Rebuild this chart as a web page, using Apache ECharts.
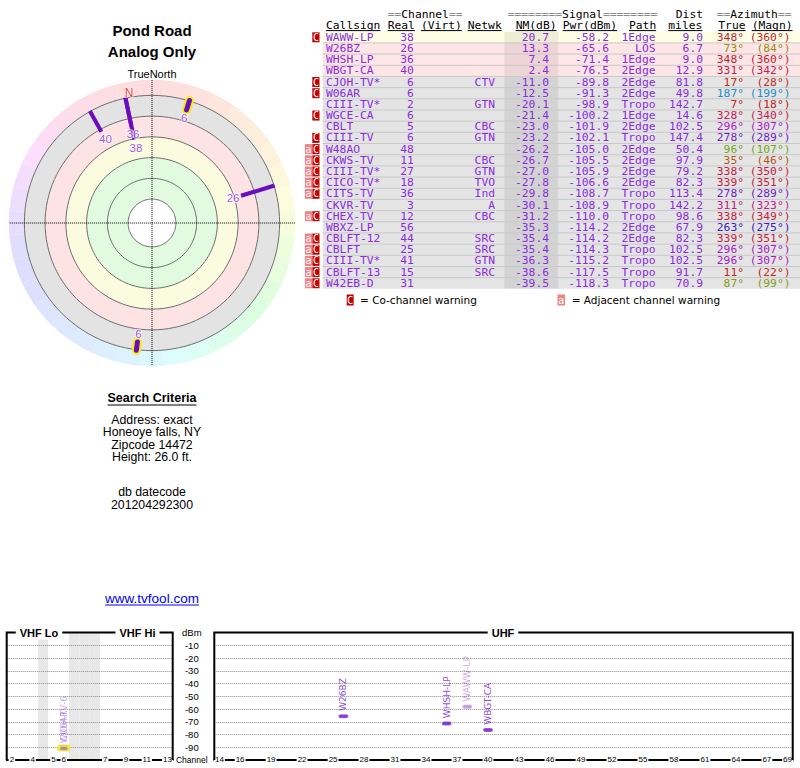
<!DOCTYPE html>
<html>
<head>
<meta charset="utf-8">
<script src="https://cdn.jsdelivr.net/npm/echarts@6.0.0/dist/echarts.min.js"></script>
<style>
html,body{margin:0;padding:0;background:#fff;}
#chart{width:800px;height:768px;}
</style>
</head>
<body>
<div id="chart"></div>
<script>
// ================= DATA =================
const warnings   = ['C','','','','C','C','','C','','C','aC','aC','aC','aC','aC','','aC','','aC','aC','aC','aC','aC'];
const callsigns  = ['WAWW-LP','W26BZ','WHSH-LP','WBGT-CA','CJOH-TV*','W06AR','CIII-TV*','WGCE-CA','CBLT','CIII-TV','W48AO','CKWS-TV','CIII-TV*','CICO-TV*','CITS-TV','CKVR-TV','CHEX-TV','WBXZ-LP','CBLFT-12','CBLFT','CIII-TV*','CBLFT-13','W42EB-D'];
const realCh     = [38,26,36,40,6,6,2,6,5,6,48,11,27,18,36,3,12,56,44,25,41,15,31];
const networks   = ['','','','','CTV','','GTN','','CBC','GTN','','CBC','GTN','TVO','Ind','A','CBC','','SRC','SRC','GTN','SRC',''];
const nmDb       = [20.7,13.3,7.4,2.4,-11.0,-12.5,-20.1,-21.4,-23.0,-23.2,-26.2,-26.7,-27.0,-27.8,-29.8,-30.1,-31.2,-35.3,-35.4,-35.4,-36.3,-38.6,-39.5];
const pwrDbm     = [-58.2,-65.6,-71.4,-76.5,-89.8,-91.3,-98.9,-100.2,-101.9,-102.1,-105.0,-105.5,-105.9,-106.6,-108.7,-108.9,-110.0,-114.2,-114.2,-114.3,-115.2,-117.5,-118.3];
const paths      = ['1Edge','LOS','1Edge','2Edge','2Edge','2Edge','Tropo','1Edge','2Edge','Tropo','2Edge','2Edge','2Edge','2Edge','Tropo','Tropo','Tropo','2Edge','2Edge','Tropo','Tropo','Tropo','Tropo'];
const distMiles  = [9.0,6.7,9.0,12.9,81.8,49.8,142.7,14.6,102.5,147.4,50.4,97.9,79.2,82.3,113.4,142.2,98.6,67.9,82.3,102.5,102.5,91.7,70.9];
const azTrue     = [348,73,348,331,17,187,7,328,296,278,96,35,338,339,278,311,338,263,339,296,296,11,87];
const azMagn     = [360,84,360,342,28,199,18,340,307,289,107,46,350,351,289,323,349,275,351,307,307,22,99];
const spectrumLabels = ['WAWW-LP','W26BZ','WHSH-LP','WBGT-CA','CJOH-TV-6','W06AR'];

const dbRings        = [80, 60, 40, 20, 0, -20];
const vhfSlots       = ['2','3','4','gapA','5','6','fm1','fm2','fm3','7','8','9','10','11','12','13'];
const vhfGapSlots    = ['gapA','fm1','fm2','fm3'];
const vhfTickLabels  = ['2','4','5','6','7','9','11','13'];
const uhfTickLabels  = ['14','16','19','22','25','28','31','34','37','40','43','46','49','52','55','58','61','64','67','69'];

const titleLines     = ['Pond Road','Analog Only'];
const criteriaTitle  = 'Search Criteria';
const criteriaLines  = ['Address: exact','Honeoye falls, NY','Zipcode 14472','Height: 26.0 ft.'];
const datecodeLines  = ['db datecode','201204292300'];
const siteLink       = 'www.tvfool.com';
const headerLine2    = ['Callsign','Real','(Virt)','Netwk','NM(dB)','Pwr(dBm)','Path','miles','True','(Magn)'];
const legendTexts    = ['= Co-channel warning','= Adjacent channel warning'];

// ================= CONFIG / LAYOUT =================
const PLOT_NM_MIN = -15;      // stations drawn in radar / spectrum
const MAG_NORTH_AZ = 350;
const SEG_OUTER_DB = -20.5;
const LABEL_IN_DB = 8;
const PC = {x:152, y:223, r:143.2};
const R_MIN = -35, R_MAX = 103;
const rPx = db => (R_MAX - db) / (R_MAX - R_MIN) * PC.r;
const BANDS = [
  {lo: 80, disk:'#ffffff', row:'#ffffff'},
  {lo: 40, disk:'#e2fbe0', row:'#e2fbe0'},
  {lo: 20, disk:'#fbfbdf', row:'#ffffe6'},
  {lo: 0,  disk:'#fde3e3', row:'#ffe6e6'},
  {lo: -20,disk:'#e3e3e3', row:'#e4e4e4'}
];
const rowBg = nm => { for (const b of BANDS.slice(1)) if (nm >= b.lo) return b.row; return BANDS[BANDS.length-1].row; };

const HUE_ANCHORS = [[0,0],[17,6],[35,23],[73,51],[96,83],[187,199],[263,250],[278,270],[296,290],[311,322],[328,340],[348,353],[360,360]];
function hueOf(az){
  az = ((az % 360) + 360) % 360;
  for (let k = 1; k < HUE_ANCHORS.length; k++) {
    const [a1,h1] = HUE_ANCHORS[k-1], [a2,h2] = HUE_ANCHORS[k];
    if (az <= a2) return h1 + (az - a1) / (a2 - a1) * (h2 - h1);
  }
  return 0;
}
function azTextColor(az){
  const h = hueOf(az) % 360;
  const l = 44 - 10 * Math.exp(-Math.pow((h - 60) / 35, 2));
  return 'hsl(' + h.toFixed(0) + ',75%,' + l.toFixed(0) + '%)';
}
function azPastel(az){ return 'hsl(' + (hueOf(az) % 360).toFixed(0) + ',90%,93%)'; }

const PURPLE = '#8a2be2';
const SEG = '#6a0dbf';
const SANS = 'Liberation Sans, Arial, sans-serif';
const DSANS = 'DejaVu Sans, Verdana, sans-serif';
const MONO = 'DejaVu Sans Mono, monospace';
const TFS = 11.3;
const TLH = 10.5;

const GV = {left:6.7, top:632.5, width:166, height:127.5};
const GU = {left:214.3, top:632.5, width:578.4, height:127.5};

const TB = {x0:322.7, x1:800, y0:37.3, rowH:11.18, head1Y:14, head2Y:25};
const HEAD2_X = [326,387.7,421,467.7,515.7,562.7,629,668.3,718.3,751.7];
const COL = {call:326, real:413.8, netwk:495, nm:549, pwr:609, path:655.5, dist:703, tru:744, magn:790.5};
const NMCOL = {x0:504.3, x1:558.3};

const mctx = document.createElement('canvas').getContext('2d');
function mw(t, fs, ff, fw){ mctx.font = (fw||'normal') + ' ' + fs + 'px ' + ff; return mctx.measureText(t).width; }

// ================= SERIES =================
const series = [];
const plotted = [];
for (let i = 0; i < nmDb.length; i++) if (nmDb[i] >= PLOT_NM_MIN) plotted.push(i);

// background bands
BANDS.forEach((b, k) => {
  const hi = k === 0 ? R_MAX : BANDS[k-1].lo;
  series.push({type:'pie', center:[PC.x,PC.y], radius:[rPx(hi), rPx(b.lo)], silent:true, z:1,
    label:{show:false}, labelLine:{show:false}, itemStyle:{color:b.disk, borderWidth:0},
    emphasis:{disabled:true}, data:[{value:1}]});
});
// azimuth rainbow ring
const wedges = [];
for (let a = 0; a < 360; a += 10) wedges.push({value:1, itemStyle:{color:azPastel(a)}});
series.push({type:'pie', center:[PC.x,PC.y], radius:[rPx(-20), PC.r], startAngle:95, clockwise:true,
  silent:true, z:1, label:{show:false}, labelLine:{show:false}, itemStyle:{borderWidth:0},
  emphasis:{disabled:true}, data:wedges});
// ring circles
dbRings.forEach(db => {
  const pts = [];
  for (let a = 0; a <= 360; a += 3) pts.push([db, a]);
  series.push({type:'line', coordinateSystem:'polar', data:pts, symbol:'none', silent:true, z:2,
    lineStyle:{color:'#6e6e6e', width:1}});
});
// crosshair
[[0,180],[90,270]].forEach(([a,b]) => series.push({type:'line', coordinateSystem:'polar', data:[[R_MIN,a],[R_MIN,b]],
  symbol:'none', silent:true, z:2, lineStyle:{color:'#000', width:1, type:'dotted'}}));
// station segments
plotted.forEach(i => {
  const seg = [[nmDb[i], azTrue[i]], [SEG_OUTER_DB, azTrue[i]]];
  if (realCh[i] <= 6) {
    series.push({type:'line', coordinateSystem:'polar', data:seg, symbol:'none', silent:true, z:3,
      lineStyle:{color:'#f4ee10', width:9, cap:'round'}});
    series.push({type:'line', coordinateSystem:'polar', data:seg, symbol:'none', silent:true, z:3,
      lineStyle:{color:SEG, width:5, cap:'round'}});
  } else {
    series.push({type:'line', coordinateSystem:'polar', data:seg, symbol:'none', silent:true, z:3,
      lineStyle:{color:SEG, width:4, cap:'butt'}});
  }
});
// channel labels in radar
series.push({type:'scatter', coordinateSystem:'polar', silent:true, z:4, symbolSize:1,
  itemStyle:{color:'transparent'},
  label:{show:true, position:'inside', formatter:'{b}', color:'#8a2be2', fontSize:11.5, fontFamily:SANS,
    textBorderColor:'rgba(255,255,255,0.85)', textBorderWidth:2},
  data: plotted.map(i => ({name:String(realCh[i]), value:[nmDb[i] + LABEL_IN_DB, azTrue[i]]}))});
// magnetic north
series.push({type:'scatter', coordinateSystem:'polar', silent:true, z:4, symbolSize:1,
  itemStyle:{color:'transparent'},
  label:{show:true, position:'inside', formatter:'N', color:'#ff0000', fontSize:12, fontFamily:SANS,
    textBorderColor:'rgba(255,255,255,0.8)', textBorderWidth:2},
  data:[{value:[-24, MAG_NORTH_AZ]}]});

// spectrum: gray gaps
series.push({type:'bar', xAxisIndex:0, yAxisIndex:0, barWidth:'100%', silent:true, z:1,
  itemStyle:{color:'#e8e8e8'}, data: vhfSlots.map(s => vhfGapSlots.indexOf(s) >= 0 ? -100 : null)});
// spectrum markers
const uhfSlots = [];
for (let ch = 14; ch <= 69; ch++) uhfSlots.push(String(ch));
const vhfItems = [], uhfItems = [];
plotted.forEach((i, k) => {
  const warned = warnings[i].indexOf('C') >= 0;
  const lo = realCh[i] <= 6;
  const isV = realCh[i] <= 13;
  const slots = isV ? vhfSlots : uhfSlots;
  const item = {name: spectrumLabels[k], value:[slots.indexOf(String(realCh[i])), pwrDbm[i]],
    itemStyle:{color: warned ? 'rgba(106,13,191,0.5)' : SEG,
      borderColor: lo ? '#f2ee30' : 'rgba(255,255,255,0.7)', borderWidth: lo ? 2 : 1},
    label:{color: warned ? 'rgba(112,20,215,0.5)' : '#6c10d2'}};
  (isV ? vhfItems : uhfItems).push(item);
});
const specLabel = {show:true, formatter:'{b}', position:'top', distance:3, rotate:90, align:'left',
  verticalAlign:'middle', fontSize:9, fontFamily:DSANS, lineHeight:9};
series.push({type:'scatter', xAxisIndex:0, yAxisIndex:0, symbol:'roundRect', symbolSize:[10,4], z:5, silent:true,
  label:specLabel, data:vhfItems});
series.push({type:'scatter', xAxisIndex:1, yAxisIndex:1, symbol:'roundRect', symbolSize:[10,4], z:5, silent:true,
  label:specLabel, data:uhfItems});

// ================= AXES =================
const xLabelBase = {fontSize:8, color:'#000', fontFamily:SANS, backgroundColor:'#fff', padding:[0,1], margin:-4.5, lineHeight:8};
const xAxes = [
  {gridIndex:0, type:'category', data:vhfSlots, boundaryGap:true, z:3,
    axisLine:{show:true, onZero:false, lineStyle:{color:'#000', width:2}}, axisTick:{show:false}, splitLine:{show:false},
    axisLabel:Object.assign({interval:(idx, v) => vhfTickLabels.indexOf(v) >= 0}, xLabelBase)},
  {gridIndex:1, type:'category', data:uhfSlots, boundaryGap:true, z:3,
    axisLine:{show:true, onZero:false, lineStyle:{color:'#000', width:2}}, axisTick:{show:false}, splitLine:{show:false},
    axisLabel:Object.assign({interval:(idx, v) => uhfTickLabels.indexOf(v) >= 0}, xLabelBase)}
];
const ySplit = {show:true, showMinLine:false, showMaxLine:false, lineStyle:{color:'#8a8a8a', type:'dotted', width:1}};
const yAxes = [
  {gridIndex:0, type:'value', min:-100, max:0, interval:10, z:3, axisLine:{show:false}, axisTick:{show:false},
    axisLabel:{show:false}, splitLine:ySplit},
  {gridIndex:1, type:'value', min:-100, max:0, interval:10, z:3, axisLine:{show:false}, axisTick:{show:false},
    splitLine:ySplit,
    axisLabel:{show:true, showMinLabel:true, showMaxLabel:true, align:'center', margin:22.5, fontSize:9.5,
      color:'#000', fontFamily:SANS, lineHeight:10,
      formatter: v => v === 0 ? 'dBm' : (v === -100 ? '{c|Channel}' : String(v)),
      rich:{c:{fontSize:8.5, color:'#000', fontFamily:SANS, lineHeight:9}}}}
];

// ================= GRAPHIC (texts & table) =================
const G = [];
function txt(x, y, text, st, z){
  const s = Object.assign({x:x, y:y, text:text, fill:'#000', fontFamily:SANS, fontSize:12, align:'left', verticalAlign:'middle'}, st || {});
  if (s.lineHeight == null) s.lineHeight = Math.round(s.fontSize * 0.95 * 10) / 10;
  G.push({type:'text', silent:true, z: z || 20, style:s});
}
function line(x1, y1, x2, y2, stroke, w, z){
  G.push({type:'line', silent:true, z: z || 15, shape:{x1:x1, y1:y1, x2:x2, y2:y2}, style:{stroke:stroke, lineWidth:w || 1}});
}
function rect(x, y, w, h, fill, z){
  G.push({type:'rect', silent:true, z: z || 1, shape:{x:x, y:y, width:w, height:h}, style:{fill:fill}});
}

// left panel
txt(PC.x, 30, titleLines[0], {fontSize:15, fontWeight:'bold', align:'center'});
txt(PC.x, 51, titleLines[1], {fontSize:15, fontWeight:'bold', align:'center'});
txt(PC.x, 74, 'TrueNorth', {fontSize:11, align:'center'});
txt(PC.x, 398, criteriaTitle, {fontSize:12.5, fontWeight:'bold', align:'center'});
(function(){ const w = mw(criteriaTitle, 12.5, SANS, 'bold'); line(PC.x - w/2, 405, PC.x + w/2, 405, '#000', 1); })();
criteriaLines.forEach((t, k) => txt(PC.x, 419.5 + k * 12.5, t, {fontSize:12.3, align:'center', lineHeight:11.5}));
datecodeLines.forEach((t, k) => txt(PC.x, 492 + k * 13, t, {fontSize:12.3, align:'center', lineHeight:11.5}));
txt(PC.x, 598, siteLink, {fontSize:13.5, align:'center', fill:'#0000ee'});
(function(){ const w = mw(siteLink, 13.5, SANS); line(PC.x - w/2, 605, PC.x + w/2, 605, '#0000ee', 1); })();

// table header
const eqRich = {e:{fill:'#8c8c8c', fontFamily:MONO, fontSize:TFS, lineHeight:TLH}};
txt(387.7, TB.head1Y, '{e|==}Channel{e|==}', {fontFamily:MONO, fontSize:TFS, lineHeight:TLH, rich:eqRich});
txt(507.7, TB.head1Y, '{e|========}Signal{e|========}', {fontFamily:MONO, fontSize:TFS, lineHeight:TLH, rich:eqRich});
txt(COL.dist, TB.head1Y, 'Dist', {fontFamily:MONO, fontSize:TFS, lineHeight:TLH, align:'right'});
txt(716.7, TB.head1Y, '{e|==}Azimuth{e|==}', {fontFamily:MONO, fontSize:TFS, lineHeight:TLH, rich:eqRich});
headerLine2.forEach((t, k) => {
  txt(HEAD2_X[k], TB.head2Y, t, {fontFamily:MONO, fontSize:TFS, lineHeight:TLH});
  const w = mw(t, TFS, MONO);
  line(HEAD2_X[k], TB.head2Y + 5.6, HEAD2_X[k] + w, TB.head2Y + 5.6, '#000', 1, 6);
});

// table rows
const nRows = callsigns.length;
callsigns.forEach((cs, i) => {
  const yc = TB.y0 + i * TB.rowH;
  rect(TB.x0, yc - TB.rowH/2, TB.x1 - TB.x0, TB.rowH, rowBg(nmDb[i]), 1);
  if (i < nRows - 1) line(TB.x0, yc + TB.rowH/2, TB.x1, yc + TB.rowH/2, '#c8c8c8', 1, 3);
  const st = {fontFamily:MONO, fontSize:TFS, fill:PURPLE, lineHeight:TLH};
  txt(COL.call, yc, cs, st);
  txt(COL.real, yc, String(realCh[i]), Object.assign({align:'right'}, st));
  if (networks[i]) txt(COL.netwk, yc, networks[i], Object.assign({align:'right'}, st));
  txt(COL.nm, yc, nmDb[i].toFixed(1), Object.assign({align:'right'}, st));
  txt(COL.pwr, yc, pwrDbm[i].toFixed(1), Object.assign({align:'right'}, st));
  txt(COL.path, yc, paths[i], Object.assign({align:'right'}, st));
  txt(COL.dist, yc, distMiles[i].toFixed(1), Object.assign({align:'right'}, st));
  const ac = azTextColor(azTrue[i]);
  txt(COL.tru, yc, azTrue[i] + '°', {fontFamily:MONO, fontSize:TFS, fill:ac, align:'right', lineHeight:TLH});
  txt(COL.magn, yc, '(' + azMagn[i] + '°)', {fontFamily:MONO, fontSize:TFS, fill:ac, align:'right', lineHeight:TLH});
  // warnings
  if (warnings[i].indexOf('C') >= 0) {
    rect(312.3, yc - 5, 7.2, 10, '#c40000', 4);
    txt(315.9, yc, 'C', {fontFamily:MONO, fontSize:10, fill:'#fff', align:'center', lineHeight:9}, 21);
  }
  if (warnings[i].indexOf('a') >= 0) {
    rect(304.9, yc - 5, 7.4, 10, '#ef8282', 4);
    txt(308.6, yc, 'a', {fontFamily:MONO, fontSize:10, fill:'#fff', align:'center', lineHeight:9}, 21);
  }
});
// NM column shade
G.push({type:'rect', silent:true, z:2, shape:{x:NMCOL.x0, y:TB.y0 - TB.rowH/2, width:NMCOL.x1 - NMCOL.x0, height:nRows * TB.rowH},
  style:{fill:'rgba(0,0,0,0.07)'}});

// legend
rect(346.7, 294.5, 7, 11, '#c40000', 4);
txt(350.2, 300, 'C', {fontFamily:MONO, fontSize:10.5, fill:'#fff', align:'center'}, 21);
txt(360, 300, legendTexts[0], {fontFamily:DSANS, fontSize:10.5});
rect(557.5, 294.5, 7.5, 11, '#ef8282', 4);
txt(561.2, 300, 'a', {fontFamily:MONO, fontSize:10.5, fill:'#fff', align:'center'}, 21);
txt(571.7, 300, legendTexts[1], {fontFamily:DSANS, fontSize:10.5});

// spectrum frames & band titles
[GV, GU].forEach(g => {
  G.push({type:'polyline', silent:true, z:25,
    shape:{points:[[g.left, g.top + g.height], [g.left, g.top], [g.left + g.width, g.top], [g.left + g.width, g.top + g.height]]},
    style:{stroke:'#000', lineWidth:2, fill:null}});
});
const bandTitle = {fontSize:11, fontWeight:'bold', align:'center', backgroundColor:'#fff', padding:[1,4], lineHeight:11};
txt(39, GV.top + 0.5, 'VHF Lo', bandTitle, 30);
txt(137.5, GV.top + 0.5, 'VHF Hi', bandTitle, 30);
txt(503, GU.top + 0.5, 'UHF', bandTitle, 30);

// ================= OPTION =================
const option = {
  animation:false,
  backgroundColor:'#ffffff',
  polar:{center:[PC.x, PC.y], radius:PC.r},
  angleAxis:{type:'value', min:0, max:360, startAngle:90, clockwise:true, show:false},
  radiusAxis:{type:'value', min:R_MIN, max:R_MAX, inverse:true, show:false},
  grid:[
    Object.assign({containLabel:false, outerBoundsMode:'none'}, GV),
    Object.assign({containLabel:false, outerBoundsMode:'none'}, GU)
  ],
  xAxis:xAxes,
  yAxis:yAxes,
  series:series,
  graphic:{elements:G}
};
const chart = echarts.init(document.getElementById('chart'), null, {renderer:'svg', width:800, height:768});
chart.setOption(option);
</script>
</body>
</html>
